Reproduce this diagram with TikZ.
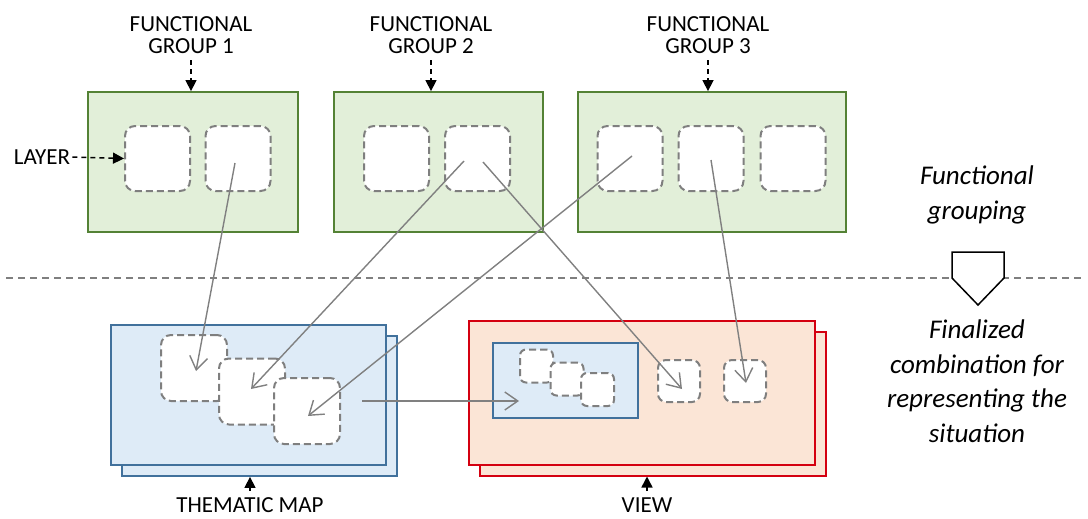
\documentclass[tikz,border=0pt]{standalone}
\usepackage{fontspec}
\setmainfont{Carlito}
\usetikzlibrary{arrows.meta}
\definecolor{grpfill}{HTML}{E2EFD9}
\definecolor{grpline}{HTML}{548235}
\definecolor{mapfill}{HTML}{DEEBF7}
\definecolor{mapline}{HTML}{41719C}
\definecolor{viewfill}{HTML}{FBE5D6}
\definecolor{viewline}{HTML}{D40010}
\definecolor{dashgray}{HTML}{7F7F7F}
\definecolor{linkgray}{HTML}{808080}
\begin{document}
\begin{tikzpicture}[x=1pt,y=-1pt,
  grp/.style={draw=grpline, fill=grpfill, line width=1.8pt, inner sep=0},
  mapbox/.style={draw=mapline, fill=mapfill, line width=1.8pt, inner sep=0},
  viewbox/.style={draw=viewline, fill=viewfill, line width=2pt, inner sep=0},
  layerbox/.style={draw=dashgray, fill=white, line width=2pt, dash pattern=on 7pt off 4pt,
    rounded corners=10pt, inner sep=0, minimum width=#1, minimum height=#1},
  link/.style={draw=linkgray, line width=1.4pt, -{Straight Barb[length=13pt,width=18pt]}},
  ptr/.style={line width=1.5pt, dash pattern=on 5pt off 4pt, -{Triangle[length=11pt,width=11pt]}},
  caps/.style={font=\fontsize{23}{22}\selectfont, align=center, inner sep=0},
  ital/.style={font=\fontsize{27}{34.5}\selectfont\itshape, align=center, inner sep=0},
  sepline/.style={draw=dashgray, line width=1.2pt, dash pattern=on 7pt off 5pt}]
\useasboundingbox (0,0) rectangle (1088,519);

% functional groups
\node[grp, minimum width=210pt, minimum height=140pt] (g1) at (193,162) {};
\node[grp, minimum width=209pt, minimum height=140pt] (g2) at (438.5,162) {};
\node[grp, minimum width=268pt, minimum height=140pt] (g3) at (712,162) {};

\node[layerbox=65pt] (a) at (157.5,158.5) {};
\node[layerbox=65pt] (b) at (238,158.5) {};
\node[layerbox=65pt] (c) at (396.5,158.5) {};
\node[layerbox=65pt] (d) at (477.5,158.5) {};
\node[layerbox=65pt] (e) at (630,158.5) {};
\node[layerbox=65pt] (f) at (711,158.5) {};
\node[layerbox=65pt] (g) at (793,158.5) {};

% labels on top
\node[caps, anchor=north] (fg1) at (191,16) {FUNCTIONAL\\GROUP 1};
\node[caps, anchor=north] (fg2) at (431,16) {FUNCTIONAL\\GROUP 2};
\node[caps, anchor=north] (fg3) at (708,16) {FUNCTIONAL\\GROUP 3};
\draw[ptr, shorten <=7pt] (fg1.south) -- (fg1.south |- g1.north);
\draw[ptr, shorten <=7pt] (fg2.south) -- (fg2.south |- g2.north);
\draw[ptr, shorten <=7pt] (fg3.south) -- (fg3.south |- g3.north);

\node[caps, anchor=center] (layer) at (42,157) {LAYER};
\draw[ptr, shorten <=2pt] (layer.east) -- (a.west);

% separator
\draw[sepline] (6,278) -- (1084,278);
\draw[line width=1.5pt, fill=white] (952,252) -- (1004,252) -- (1004,278) -- (978,305) -- (952,278) -- cycle;

\node[ital, anchor=north] (fgtxt) at (977,166) {Functional\\grouping};
\node[ital, anchor=north] (fctxt) at (977,320) {Finalized\\combination for\\representing the\\situation};

% thematic map
\node[mapbox, minimum width=275pt, minimum height=140pt] (tmback) at (259.5,406) {};
\node[mapbox, minimum width=275pt, minimum height=140pt] (tm) at (248.5,395) {};
\node[layerbox=66pt] (h) at (194,368) {};
\node[layerbox=66pt] (i) at (252,391.5) {};
\node[layerbox=66pt] (j) at (307,411) {};

% view
\node[viewbox, minimum width=346pt, minimum height=144pt] (vwback) at (652.5,403.5) {};
\node[viewbox, minimum width=346pt, minimum height=144pt] (vw) at (642,393) {};
\node[mapbox, minimum width=145pt, minimum height=75pt] (inner) at (565.5,380.5) {};
\node[layerbox=33pt, rounded corners=6pt] (k) at (536.5,366) {};
\node[layerbox=33pt, rounded corners=6pt] (l) at (567,379) {};
\node[layerbox=33pt, rounded corners=6pt] (m) at (597.5,389.5) {};
\node[layerbox=42pt, rounded corners=8pt] (n) at (679,381) {};
\node[layerbox=42pt, rounded corners=8pt] (o) at (745,381) {};

\node[caps, anchor=base] (tmlabel) at (250,512) {THEMATIC MAP};
\node[caps, anchor=base] (vwlabel) at (647,512) {VIEW};
\draw[ptr, shorten <=6pt] (tmlabel.north) -- (tmlabel.north |- tmback.south);
\draw[ptr, shorten <=6pt] (vwlabel.north) -- (vwlabel.north |- vwback.south);

% connectors
\coordinate (b-s) at (235,163);
\coordinate (d-s1) at (464,161);
\coordinate (d-s2) at (483,162);
\coordinate (e-s) at (632,156);
\coordinate (f-s) at (711,160);
\coordinate (h-e) at (196,371);
\coordinate (i-e) at (251,389);
\coordinate (j-e) at (308,416);
\coordinate (n-e) at (682,389);
\coordinate (o-e) at (746,383);
\coordinate (tm-out) at (362,401);
\coordinate (inner-in) at (519,401);
\draw[link] (b-s) -- (h-e);
\draw[link] (d-s1) -- (i-e);
\draw[link] (d-s2) -- (n-e);
\draw[link] (e-s) -- (j-e);
\draw[link] (f-s) -- (o-e);
\draw[link] (tm-out) -- (inner-in);
\end{tikzpicture}
\end{document}
